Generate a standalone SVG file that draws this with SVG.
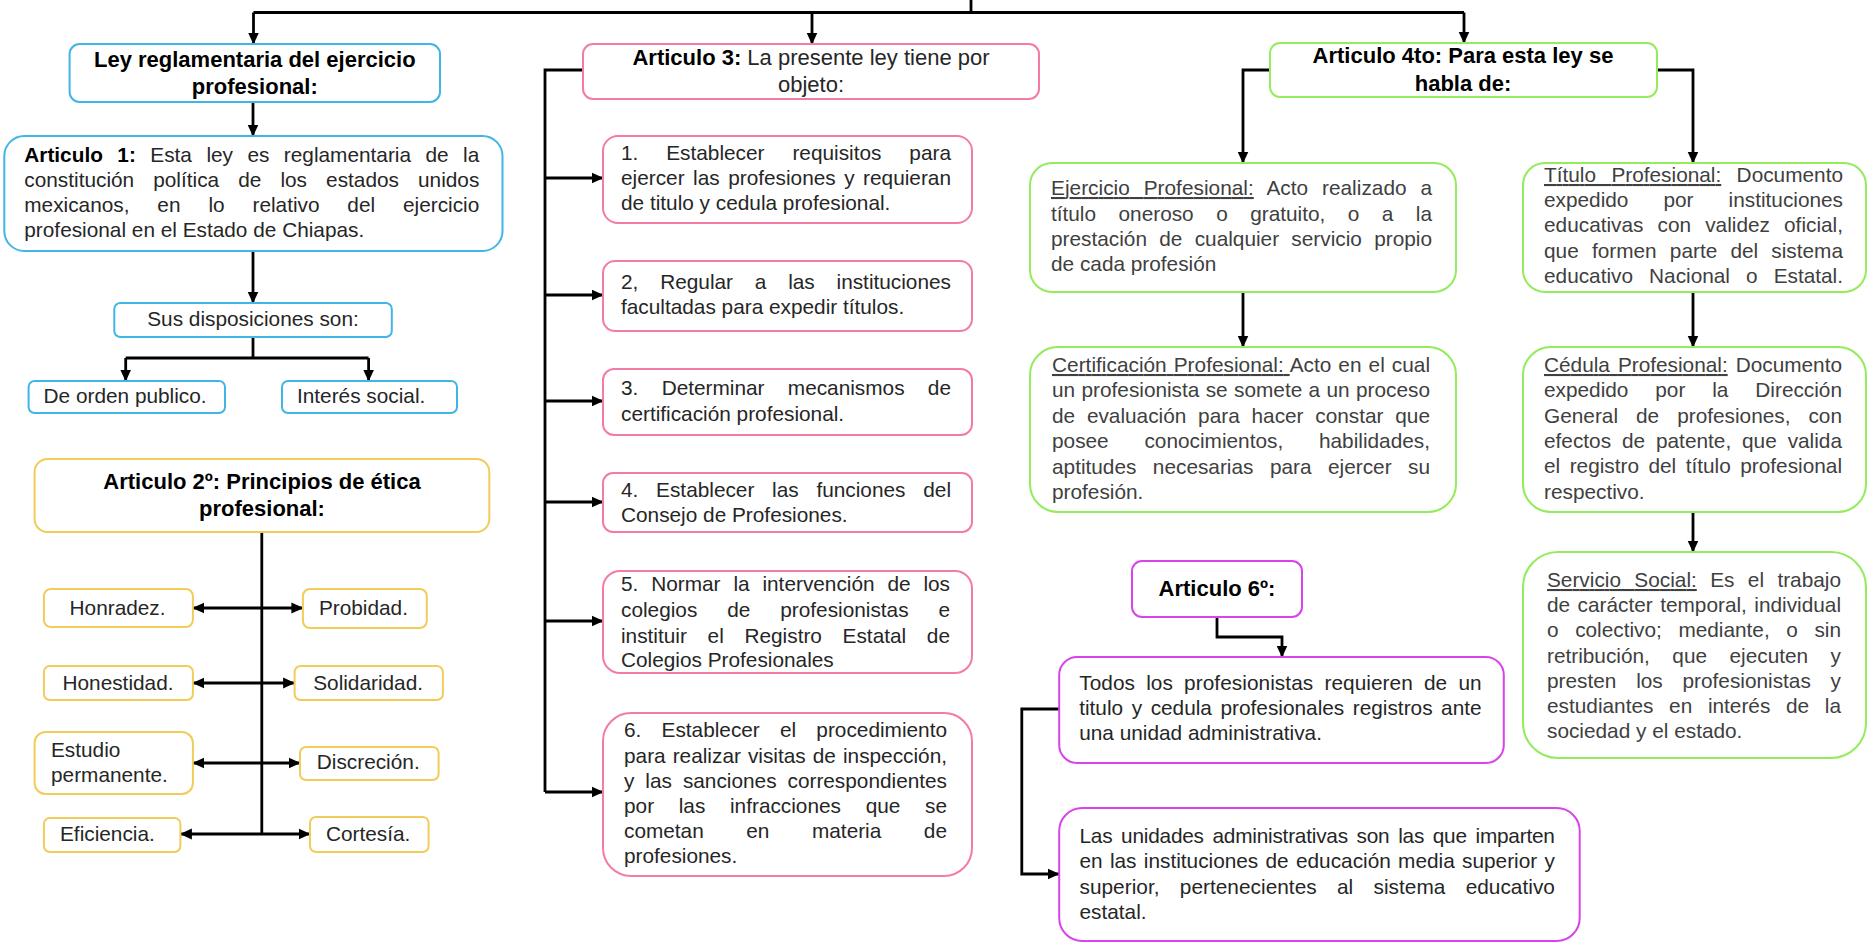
<svg xmlns="http://www.w3.org/2000/svg" width="1868" height="943" viewBox="0 0 1868 943">
<style>
text{font-family:"Liberation Sans",Arial,sans-serif;fill:#262626}
.bd{font-weight:bold;fill:#000}
.g text{fill:#404040}
.blue{fill:#fff;stroke:#41b6e6;stroke-width:2}
.yel{fill:#fff;stroke:#f2cc5a;stroke-width:2}
.pink{fill:#fff;stroke:#f47ca4;stroke-width:2}
.grn{fill:#fff;stroke:#94eb5c;stroke-width:2}
.mag{fill:#fff;stroke:#d943ec;stroke-width:2}
.c path{fill:none;stroke:#000;stroke-width:2.8}
.u{text-decoration:underline}
</style>
<defs>
<marker id="ah" markerUnits="userSpaceOnUse" markerWidth="12" markerHeight="12" viewBox="0 0 12 12" refX="11.5" refY="6" orient="auto-start-reverse">
<path d="M0,0.5 L12,6 L0,11.5 z" fill="#000"/>
</marker>
</defs>
<rect width="1868" height="943" fill="#fff"/>

<g id="connectors" class="c">
<path d="M971,0 V12.5"/>
<path d="M253.5,12.5 H1464"/>
<path d="M253.5,12.5 V44" marker-end="url(#ah)"/>
<path d="M812,12.5 V44" marker-end="url(#ah)"/>
<path d="M1464,12.5 V43" marker-end="url(#ah)"/>
<path d="M253,102 V136" marker-end="url(#ah)"/>
<path d="M253,251 V303" marker-end="url(#ah)"/>
<path d="M253,337 V358"/>
<path d="M125.7,358 H368.6"/>
<path d="M125.7,358 V381" marker-end="url(#ah)"/>
<path d="M368.6,358 V381" marker-end="url(#ah)"/>
<path d="M261.8,532 V834"/>
<path d="M192.9,608 H302.9" marker-start="url(#ah)" marker-end="url(#ah)"/>
<path d="M192.9,683 H294.6" marker-start="url(#ah)" marker-end="url(#ah)"/>
<path d="M192.9,763 H300" marker-start="url(#ah)" marker-end="url(#ah)"/>
<path d="M180.4,834 H310" marker-start="url(#ah)" marker-end="url(#ah)"/>
<path d="M583,70 H545 V792"/>
<path d="M545,178 H603" marker-end="url(#ah)"/>
<path d="M545,295 H603" marker-end="url(#ah)"/>
<path d="M545,401 H603" marker-end="url(#ah)"/>
<path d="M545,502 H603" marker-end="url(#ah)"/>
<path d="M545,621 H603" marker-end="url(#ah)"/>
<path d="M545,792 H603" marker-end="url(#ah)"/>
<path d="M1270,70 H1243 V163" marker-end="url(#ah)"/>
<path d="M1657,70 H1693 V163" marker-end="url(#ah)"/>
<path d="M1243,292 V347" marker-end="url(#ah)"/>
<path d="M1693,292 V347" marker-end="url(#ah)"/>
<path d="M1693,512 V552" marker-end="url(#ah)"/>
<path d="M1217,617 V637 H1282 V657" marker-end="url(#ah)"/>
<path d="M1059,709 H1021.8 V874 H1059" marker-end="url(#ah)"/>
</g>

<g id="ley" font-size="22">
<rect class="blue" x="69.6" y="44" width="370.4" height="58" rx="10"/>
<text class="bd" x="254.8" y="67" text-anchor="middle">Ley reglamentaria del ejercicio</text>
<text class="bd" x="254.8" y="94" text-anchor="middle">profesional:</text>
</g>

<g id="art1" font-size="20.8">
<rect class="blue" x="4.3" y="136" width="498.2" height="115" rx="20"/>
<text x="24.3" y="162" textLength="455" lengthAdjust="spacing" style="word-spacing:8.7px"><tspan class="bd">Articulo 1:</tspan> Esta ley es reglamentaria de la</text>
<text x="24.3" y="187" textLength="455" lengthAdjust="spacing" style="word-spacing:13.3px">constitución política de los estados unidos</text>
<text x="24.3" y="212" textLength="455" lengthAdjust="spacing" style="word-spacing:22.1px">mexicanos, en lo relativo del ejercicio</text>
<text x="24.3" y="237">profesional en el Estado de Chiapas.</text>
</g>

<g id="sus" font-size="20.8">
<rect class="blue" x="114.3" y="303" width="277.5" height="34" rx="6"/>
<text x="253" y="326" text-anchor="middle">Sus disposiciones son:</text>
</g>
<g id="orden" font-size="20.8">
<rect class="blue" x="28.6" y="381" width="196.4" height="32" rx="6"/>
<text x="43.6" y="403">De orden publico.</text>
</g>
<g id="interes" font-size="20.8">
<rect class="blue" x="282" y="381" width="175" height="32" rx="6"/>
<text x="297" y="403">Interés social.</text>
</g>

<g id="art2" font-size="22">
<rect class="yel" x="34.6" y="459" width="454.7" height="73" rx="13"/>
<text class="bd" x="262" y="489" text-anchor="middle">Articulo 2º: Principios de ética</text>
<text class="bd" x="262" y="516" text-anchor="middle">profesional:</text>
</g>
<g id="honradez" font-size="20.8">
<rect class="yel" x="43.9" y="589" width="149" height="38" rx="7"/>
<text x="69.6" y="615">Honradez.</text>
</g>
<g id="probidad" font-size="20.8">
<rect class="yel" x="302.9" y="589" width="123.9" height="39" rx="7"/>
<text x="318.9" y="615">Probidad.</text>
</g>
<g id="honestidad" font-size="20.8">
<rect class="yel" x="43.9" y="666" width="149" height="34" rx="6"/>
<text x="62.5" y="690">Honestidad.</text>
</g>
<g id="solidaridad" font-size="20.8">
<rect class="yel" x="294.6" y="666" width="148.3" height="34" rx="6"/>
<text x="313.2" y="690">Solidaridad.</text>
</g>
<g id="estudio" font-size="20.8">
<rect class="yel" x="34.6" y="732" width="158.3" height="62" rx="11"/>
<text x="51" y="757">Estudio</text>
<text x="51" y="782">permanente.</text>
</g>
<g id="discrecion" font-size="20.8">
<rect class="yel" x="300" y="747" width="138.6" height="33" rx="6"/>
<text x="316.8" y="769">Discreción.</text>
</g>
<g id="eficiencia" font-size="20.8">
<rect class="yel" x="43.9" y="818" width="136.5" height="34" rx="6"/>
<text x="60" y="841">Eficiencia.</text>
</g>
<g id="cortesia" font-size="20.8">
<rect class="yel" x="310" y="817" width="118.6" height="35" rx="6"/>
<text x="326" y="841">Cortesía.</text>
</g>

<g id="art3" font-size="22">
<rect class="pink" x="583" y="44" width="456" height="55" rx="10"/>
<text x="811" y="65" text-anchor="middle"><tspan class="bd">Articulo 3:</tspan> La presente ley tiene por</text>
<text x="811" y="92" text-anchor="middle">objeto:</text>
</g>
<g id="obj1" font-size="20.8">
<rect class="pink" x="603" y="136" width="369" height="87" rx="15"/>
<text x="621" y="160" textLength="330" lengthAdjust="spacing" style="word-spacing:22.1px">1. Establecer requisitos para</text>
<text x="621" y="185" textLength="330" lengthAdjust="spacing" style="word-spacing:2.7px">ejercer las profesiones y requieran</text>
<text x="621" y="210">de titulo y cedula profesional.</text>
</g>
<g id="obj2" font-size="20.8">
<rect class="pink" x="603" y="261" width="369" height="70" rx="12"/>
<text x="621" y="289" textLength="330" lengthAdjust="spacing" style="word-spacing:16px">2, Regular a las instituciones</text>
<text x="621" y="314">facultadas para expedir títulos.</text>
</g>
<g id="obj3" font-size="20.8">
<rect class="pink" x="603" y="369" width="369" height="66" rx="11"/>
<text x="621" y="395" textLength="330" lengthAdjust="spacing" style="word-spacing:17.5px">3. Determinar mecanismos de</text>
<text x="621" y="421">certificación profesional.</text>
</g>
<g id="obj4" font-size="20.8">
<rect class="pink" x="603" y="473" width="369" height="59" rx="10"/>
<text x="621" y="497" textLength="330" lengthAdjust="spacing" style="word-spacing:12px">4. Establecer las funciones del</text>
<text x="621" y="522">Consejo de Profesiones.</text>
</g>
<g id="obj5" font-size="20.8">
<rect class="pink" x="603" y="571" width="369" height="102" rx="17"/>
<text x="621" y="591" textLength="329" lengthAdjust="spacing" style="word-spacing:7.1px">5. Normar la intervención de los</text>
<text x="621" y="617" textLength="329" lengthAdjust="spacing" style="word-spacing:24.1px">colegios de profesionistas e</text>
<text x="621" y="643" textLength="329" lengthAdjust="spacing" style="word-spacing:14.9px">instituir el Registro Estatal de</text>
<text x="621" y="667">Colegios Profesionales</text>
</g>
<g id="obj6" font-size="20.8">
<rect class="pink" x="603" y="713" width="369" height="163" rx="28"/>
<text x="624" y="737" textLength="323" lengthAdjust="spacing" style="word-spacing:14.4px">6. Establecer el procedimiento</text>
<text x="624" y="763" textLength="323" lengthAdjust="spacing" style="word-spacing:1.3px">para realizar visitas de inspección,</text>
<text x="624" y="788" textLength="323" lengthAdjust="spacing" style="word-spacing:5.2px">y las sanciones correspondientes</text>
<text x="624" y="813" textLength="323" lengthAdjust="spacing" style="word-spacing:18.9px">por las infracciones que se</text>
<text x="624" y="838" textLength="323" lengthAdjust="spacing" style="word-spacing:36.8px">cometan en materia de</text>
<text x="624" y="863">profesiones.</text>
</g>

<g id="art4" font-size="22">
<rect class="grn" x="1270" y="43" width="387" height="54" rx="10"/>
<text class="bd" x="1463" y="63" text-anchor="middle">Articulo 4to: Para esta ley se</text>
<text class="bd" x="1463" y="91" text-anchor="middle">habla de:</text>
</g>
<g id="ejercicio" class="g" font-size="20.8">
<rect class="grn" x="1030" y="163" width="426" height="129" rx="22"/>
<text x="1051" y="195" textLength="381" lengthAdjust="spacing" style="word-spacing:8px"><tspan class="u">Ejercicio Profesional:</tspan> Acto realizado a</text>
<text x="1051" y="221" textLength="381" lengthAdjust="spacing" style="word-spacing:16.7px">título oneroso o gratuito, o a la</text>
<text x="1051" y="246" textLength="381" lengthAdjust="spacing" style="word-spacing:6.5px">prestación de cualquier servicio propio</text>
<text x="1051" y="271">de cada profesión</text>
</g>
<g id="certificacion" class="g" font-size="20.8">
<rect class="grn" x="1030" y="347" width="426" height="165" rx="28"/>
<text x="1052" y="372" textLength="378" lengthAdjust="spacing" style="word-spacing:1.2px"><tspan class="u">Certificación Profesional: </tspan>Acto en el cual</text>
<text x="1052" y="397" textLength="378" lengthAdjust="spacing" style="word-spacing:0.6px">un profesionista se somete a un proceso</text>
<text x="1052" y="423" textLength="378" lengthAdjust="spacing" style="word-spacing:6px">de evaluación para hacer constar que</text>
<text x="1052" y="448" textLength="378" lengthAdjust="spacing" style="word-spacing:30px">posee conocimientos, habilidades,</text>
<text x="1052" y="474" textLength="378" lengthAdjust="spacing" style="word-spacing:10.7px">aptitudes necesarias para ejercer su</text>
<text x="1052" y="499">profesión.</text>
</g>
<g id="titulo" class="g" font-size="20.8">
<rect class="grn" x="1523" y="163" width="343" height="129" rx="22"/>
<text x="1544" y="182" textLength="299" lengthAdjust="spacing" style="word-spacing:9.6px"><tspan class="u">Título Profesional:</tspan> Documento</text>
<text x="1544" y="207" textLength="299" lengthAdjust="spacing" style="word-spacing:29.3px">expedido por instituciones</text>
<text x="1544" y="232" textLength="299" lengthAdjust="spacing" style="word-spacing:8.3px">educativas con validez oficial,</text>
<text x="1544" y="258" textLength="299" lengthAdjust="spacing" style="word-spacing:7.4px">que formen parte del sistema</text>
<text x="1544" y="283" textLength="299" lengthAdjust="spacing" style="word-spacing:10.3px">educativo Nacional o Estatal.</text>
</g>
<g id="cedula" class="g" font-size="20.8">
<rect class="grn" x="1523" y="347" width="343" height="165" rx="28"/>
<text x="1544" y="372" textLength="298" lengthAdjust="spacing" style="word-spacing:2.2px"><tspan class="u">Cédula Profesional:</tspan> Documento</text>
<text x="1544" y="397" textLength="298" lengthAdjust="spacing" style="word-spacing:21.1px">expedido por la Dirección</text>
<text x="1544" y="423" textLength="298" lengthAdjust="spacing" style="word-spacing:12.2px">General de profesiones, con</text>
<text x="1544" y="448" textLength="298" lengthAdjust="spacing" style="word-spacing:5.1px">efectos de patente, que valida</text>
<text x="1544" y="473" textLength="298" lengthAdjust="spacing" style="word-spacing:3.7px">el registro del título profesional</text>
<text x="1544" y="499">respectivo.</text>
</g>
<g id="servicio" class="g" font-size="20.8">
<rect class="grn" x="1523" y="552" width="343" height="206" rx="35"/>
<text x="1547" y="587" textLength="294" lengthAdjust="spacing" style="word-spacing:7.6px"><tspan class="u">Servicio Social:</tspan> Es el trabajo</text>
<text x="1547" y="612" textLength="294" lengthAdjust="spacing" style="word-spacing:1.7px">de carácter temporal, individual</text>
<text x="1547" y="637" textLength="294" lengthAdjust="spacing" style="word-spacing:10.8px">o colectivo; mediante, o sin</text>
<text x="1547" y="663" textLength="294" lengthAdjust="spacing" style="word-spacing:16.7px">retribución, que ejecuten y</text>
<text x="1547" y="688" textLength="294" lengthAdjust="spacing" style="word-spacing:14px">presten los profesionistas y</text>
<text x="1547" y="713" textLength="294" lengthAdjust="spacing" style="word-spacing:9.9px">estudiantes en interés de la</text>
<text x="1547" y="738">sociedad y el estado.</text>
</g>

<g id="art6" font-size="22">
<rect class="mag" x="1132" y="561" width="170" height="56" rx="10"/>
<text class="bd" x="1217" y="596" text-anchor="middle">Articulo 6º:</text>
</g>
<g id="todos" font-size="20.8">
<rect class="mag" x="1059.2" y="657" width="444.6" height="106" rx="18"/>
<text x="1079.2" y="690" textLength="402.4" lengthAdjust="spacing" style="word-spacing:5.3px">Todos los profesionistas requieren de un</text>
<text x="1079.2" y="715" textLength="402.4" lengthAdjust="spacing" style="word-spacing:2.8px">titulo y cedula profesionales registros ante</text>
<text x="1079.2" y="740">una unidad administrativa.</text>
</g>
<g id="unidades" font-size="20.8">
<rect class="mag" x="1059.2" y="808" width="520.5" height="133" rx="23"/>
<text x="1079.5" y="843" textLength="475.4" lengthAdjust="spacing" style="word-spacing:3.1px">Las unidades administrativas son las que imparten</text>
<text x="1079.5" y="868" textLength="475.4" lengthAdjust="spacing" style="word-spacing:1.5px">en las instituciones de educación media superior y</text>
<text x="1079.5" y="894" textLength="475.4" lengthAdjust="spacing" style="word-spacing:14.5px">superior, pertenecientes al sistema educativo</text>
<text x="1079.5" y="919">estatal.</text>
</g>
</svg>
